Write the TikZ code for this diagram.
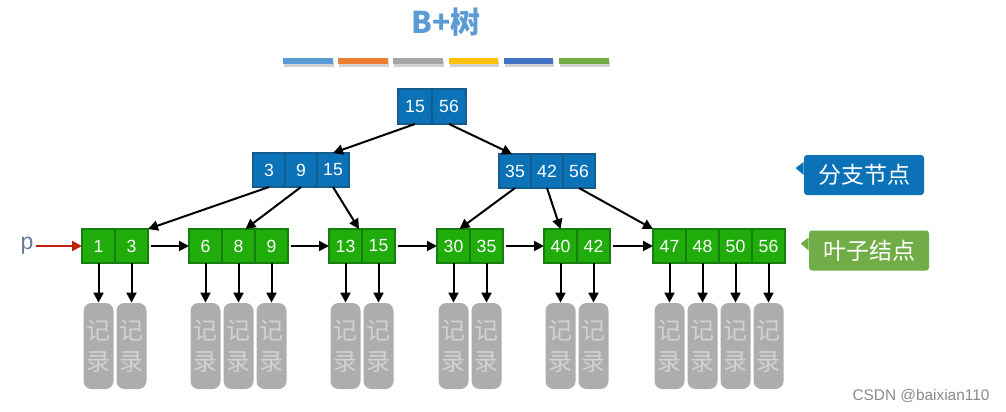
\documentclass[tikz,border=0pt]{standalone}
\usepackage{fontspec}
\setmainfont{Liberation Sans}
\newfontfamily\cjk{Noto Sans CJK SC}
\usetikzlibrary{positioning,arrows.meta}

\definecolor{titleblue}{HTML}{5B9BD5}
\definecolor{branchblue}{HTML}{0B72B7}
\definecolor{branchedge}{HTML}{155C8E}
\definecolor{leafgreen}{HTML}{20AD0C}
\definecolor{leafedge}{HTML}{157F0E}
\definecolor{taggreen}{HTML}{70AD47}
\definecolor{recgray}{HTML}{ADADAD}
\definecolor{rectext}{HTML}{D2D2D2}
\definecolor{pgray}{HTML}{6A7A93}
\definecolor{pred}{HTML}{C0200F}
\definecolor{markgray}{HTML}{8A8A8A}
\definecolor{bar1}{HTML}{5B9BD5}
\definecolor{bar2}{HTML}{ED7D31}
\definecolor{bar3}{HTML}{A5A5A5}
\definecolor{bar4}{HTML}{FFC000}
\definecolor{bar5}{HTML}{4472C4}
\definecolor{bar6}{HTML}{70AD47}

\begin{document}
\begin{tikzpicture}[x=0.5pt, y=-0.5pt,
    cell/.style={line width=0.75pt, outer sep=0pt, inner sep=0pt, text=white,
        font=\fontsize{8.8}{10}\selectfont},
    rootcell/.style={cell, draw=branchedge, fill=branchblue, minimum width=17pt, minimum height=17.5pt},
    midcell/.style={cell, draw=branchedge, fill=branchblue, minimum width=16pt, minimum height=17pt},
    leafcell/.style={cell, draw=leafedge, fill=leafgreen, minimum width=16.5pt, minimum height=17pt},
    record/.style={fill=recgray, rounded corners=4pt, minimum width=15pt, minimum height=43pt,
        inner sep=0pt, align=center, text=rectext, font=\cjk\fontsize{12}{15.5}\selectfont},
    tag/.style={rounded corners=1.5pt, minimum width=60pt, minimum height=20pt, inner sep=0pt,
        text=white, font=\cjk\fontsize{11.5}{13}\selectfont},
    arr/.style={-{Triangle[length=5pt,width=5pt]}, line width=1pt}]
    \useasboundingbox (0,0) rectangle (1006,412);

    % title and colour bars
    \node[text=titleblue, font=\cjk\bfseries\fontsize{15}{18}\selectfont] (title) at (446,22) {B+树};
    \foreach \i/\col in {0/bar1,1/bar2,2/bar3,3/bar4,4/bar5,5/bar6} {
        \fill[black, opacity=0.18] (284+55.2*\i,61) rectangle ++(49.5,5.5);
        \fill[\col] (283+55.2*\i,58) rectangle ++(49.5,5.5);
    }

    % root
    \node[rootcell] (r1) at (415,106.5) {15};
    \node[rootcell, right=0pt of r1] (r2) {56};

    % branch nodes
    \node[midcell] (m1) at (269,170) {3};
    \node[midcell, right=0pt of m1] (m2) {9};
    \node[midcell, right=0pt of m2] (m3) {15};

    \node[midcell] (n1) at (515,171) {35};
    \node[midcell, right=0pt of n1] (n2) {42};
    \node[midcell, right=0pt of n2] (n3) {56};

    % leaves
    \node[leafcell] (a1) at (98.5,246) {1};
    \node[leafcell, right=0pt of a1] (a2) {3};

    \node[leafcell] (b1) at (205.5,246) {6};
    \node[leafcell, right=0pt of b1] (b2) {8};
    \node[leafcell, right=0pt of b2] (b3) {9};

    \node[leafcell] (c1) at (345.5,246) {13};
    \node[leafcell, right=0pt of c1] (c2) {15};

    \node[leafcell] (d1) at (453.5,246) {30};
    \node[leafcell, right=0pt of d1] (d2) {35};

    \node[leafcell] (e1) at (560.5,246) {40};
    \node[leafcell, right=0pt of e1] (e2) {42};

    \node[leafcell] (f1) at (669.5,246) {47};
    \node[leafcell, right=0pt of f1] (f2) {48};
    \node[leafcell, right=0pt of f2] (f3) {50};
    \node[leafcell, right=0pt of f3] (f4) {56};

    % tree edges
    \draw[arr] (r1.south) -- (m3.north);
    \draw[arr] (r2.south) -- ([xshift=-1.5pt]n1.north);
    \draw[arr] (m1.south) -- (a2.north east);
    \draw[arr] (m2.south) -- ([xshift=3.5pt]b2.north);
    \draw[arr] (m3.south) -- ([xshift=-1.5pt]c1.north east);
    \draw[arr] (n1.south) -- ([xshift=3pt]d1.north);
    \draw[arr] (n2.south) -- (e1.north);
    \draw[arr] (n3.south) -- (f1.north west);

    % leaf chain
    \draw[arr, shorten <=1.5pt] (a2) -- (b1);
    \draw[arr, shorten <=1.5pt] (b3) -- (c1);
    \draw[arr, shorten <=1.5pt] (c2) -- (d1);
    \draw[arr, shorten <=1.5pt] (d2) -- (e1);
    \draw[arr, shorten <=1.5pt] (e2) -- (f1);

    \node[text=pgray, inner sep=1pt, font=\fontsize{11.5}{12}\selectfont] (p) at (27,246) {p};
    \draw[arr, draw=pred] (p) -- (a1);

    % records
    \coordinate (recrow) at (0,346);
    \foreach \c in {a1,a2,b1,b2,b3,c1,c2,d1,d2,e1,e2,f1,f2,f3,f4} {
        \node[record] (rec-\c) at (\c |- recrow) {记\\录};
        \draw[arr] (\c) -- (rec-\c);
    }

    % side labels
    \node[tag, fill=branchblue] (lbranch) at (864,175) {分支节点};
    \fill[branchblue] (lbranch.west) -- ++(0,-13) -- ++(-8,6) -- cycle;
    \node[tag, fill=taggreen] (lleaf) at (869,250.5) {叶子结点};
    \fill[taggreen] (lleaf.west) -- ++(0,-13) -- ++(-8,6) -- cycle;

    \node[text=markgray, font=\fontsize{7.7}{9}\selectfont] (mark) at (921,396) {CSDN @baixian110};
\end{tikzpicture}
\end{document}
